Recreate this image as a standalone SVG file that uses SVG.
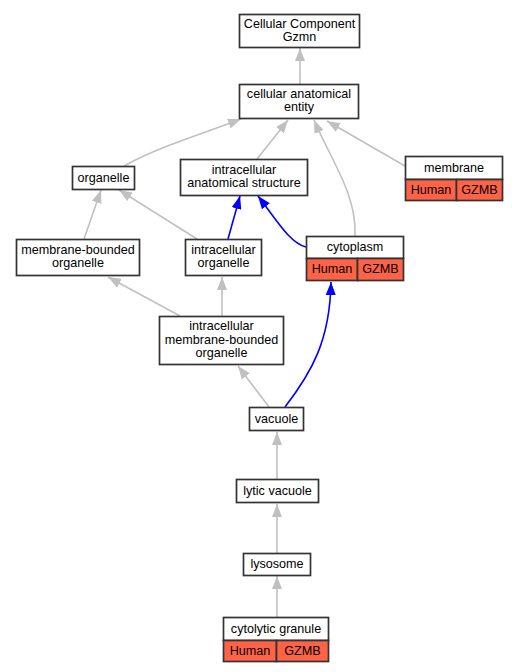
<svg xmlns="http://www.w3.org/2000/svg" width="517" height="672" viewBox="0 0 517 672">
<style>
.box{fill:#ffffff;stroke:#333333;stroke-width:1.7}
.red{fill:#ff6347;stroke:#333333;stroke-width:1.7}
text{font-family:"Liberation Sans",Arial,sans-serif;font-size:12.6px;fill:#000;text-anchor:middle}
.g{fill:none;stroke:#c0c0c0;stroke-width:1.6}
.b{fill:none;stroke:#0000ff;stroke-width:1.6}
</style>
<defs>
<marker id="ag" viewBox="0 0 13 10" refX="13" refY="5" markerWidth="13" markerHeight="10" markerUnits="userSpaceOnUse" orient="auto"><path d="M0,0 L13,5 L0,10 z" fill="#c0c0c0"/></marker>
<marker id="ab" viewBox="0 0 13 10" refX="13" refY="5" markerWidth="13" markerHeight="10" markerUnits="userSpaceOnUse" orient="auto"><path d="M0,0 L13,5 L0,10 z" fill="#0000ff"/></marker>
</defs>
<rect width="517" height="672" fill="#ffffff"/>
<g id="edges">
<path class="g" marker-end="url(#ag)" d="M300,84 L300,48"/>
<path class="g" marker-end="url(#ag)" d="M124,166 C160,146 205,133 241,119"/>
<path class="g" marker-end="url(#ag)" d="M257,159 L288,120"/>
<path class="g" marker-end="url(#ag)" d="M355,236 C357,195 332,162 314,120"/>
<path class="g" marker-end="url(#ag)" d="M405,166 L327,121"/>
<path class="g" marker-end="url(#ag)" d="M84,239 L101,190"/>
<path class="g" marker-end="url(#ag)" d="M197,239 L119,190"/>
<path class="b" marker-end="url(#ab)" d="M228,239 L240,196"/>
<path class="b" marker-end="url(#ab)" d="M306,247 C290,243 278,222 258,196"/>
<path class="g" marker-end="url(#ag)" d="M180,316 L108,277"/>
<path class="g" marker-end="url(#ag)" d="M222,316 L222,277"/>
<path class="g" marker-end="url(#ag)" d="M269,407 L238,366"/>
<path class="b" marker-end="url(#ab)" d="M285,407 C312,372 330,340 331,282"/>
<path class="g" marker-end="url(#ag)" d="M277,479 L277,432"/>
<path class="g" marker-end="url(#ag)" d="M277,553 L277,504"/>
<path class="g" marker-end="url(#ag)" d="M277,617 L277,576"/>
</g>
<g id="n_cc">
<rect class="box" x="239.5" y="14.5" width="120" height="33"/>
<text x="299.5" y="28">Cellular Component</text>
<text x="299.5" y="41">Gzmn</text>
</g>
<g id="n_cae">
<rect class="box" x="239.5" y="84.5" width="119" height="34"/>
<text x="299" y="98">cellular anatomical</text>
<text x="299" y="111">entity</text>
</g>
<g id="n_organelle">
<rect class="box" x="72.5" y="166.5" width="62" height="23"/>
<text x="103.5" y="182">organelle</text>
</g>
<g id="n_ias">
<rect class="box" x="180.5" y="159.5" width="127" height="36"/>
<text x="244" y="174">intracellular</text>
<text x="244" y="187">anatomical structure</text>
</g>
<g id="n_membrane">
<rect class="box" x="405.5" y="156.5" width="97" height="23"/>
<rect class="red" x="405.5" y="179.5" width="51" height="21"/>
<rect class="red" x="456.5" y="179.5" width="46" height="21"/>
<text x="454" y="172">membrane</text>
<text x="431" y="194">Human</text>
<text x="479.5" y="194">GZMB</text>
</g>
<g id="n_cytoplasm">
<rect class="box" x="306.5" y="236.5" width="97" height="22"/>
<rect class="red" x="306.5" y="258.5" width="51" height="22"/>
<rect class="red" x="357.5" y="258.5" width="46" height="22"/>
<text x="355" y="251">cytoplasm</text>
<text x="332" y="273">Human</text>
<text x="380.5" y="273">GZMB</text>
</g>
<g id="n_mbo">
<rect class="box" x="16.5" y="239.5" width="123" height="36"/>
<text x="78" y="254">membrane-bounded</text>
<text x="78" y="267">organelle</text>
</g>
<g id="n_io">
<rect class="box" x="185.5" y="239.5" width="76" height="36"/>
<text x="223.5" y="254">intracellular</text>
<text x="223.5" y="267">organelle</text>
</g>
<g id="n_imbo">
<rect class="box" x="159.5" y="316.5" width="124" height="48"/>
<text x="221.5" y="330">intracellular</text>
<text x="221.5" y="343.5">membrane-bounded</text>
<text x="221.5" y="357">organelle</text>
</g>
<g id="n_vacuole">
<rect class="box" x="249.5" y="407.5" width="54" height="23"/>
<text x="276.5" y="423">vacuole</text>
</g>
<g id="n_lytic">
<rect class="box" x="236.5" y="479.5" width="82" height="23"/>
<text x="277.5" y="495">lytic vacuole</text>
</g>
<g id="n_lysosome">
<rect class="box" x="243.5" y="553.5" width="67" height="22"/>
<text x="277" y="568">lysosome</text>
</g>
<g id="n_cytolytic">
<rect class="box" x="223.5" y="617.5" width="105" height="23"/>
<rect class="red" x="223.5" y="640.5" width="53" height="21"/>
<rect class="red" x="276.5" y="640.5" width="52" height="21"/>
<text x="276" y="633">cytolytic granule</text>
<text x="250" y="655">Human</text>
<text x="302.5" y="655">GZMB</text>
</g>
</svg>
